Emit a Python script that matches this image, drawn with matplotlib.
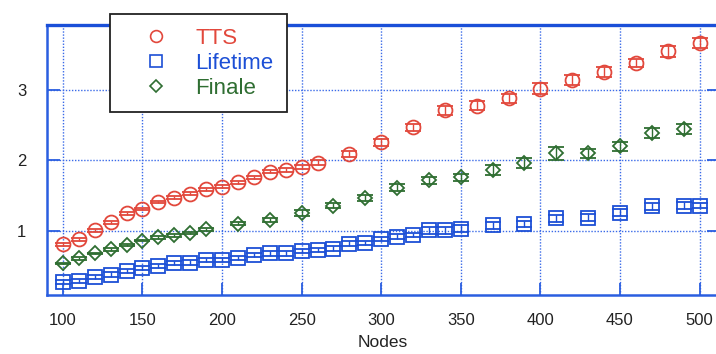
import matplotlib
matplotlib.use('Agg')
import matplotlib.pyplot as plt
from matplotlib.lines import Line2D

plt.rcParams['font.family'] = ['Liberation Sans', 'DejaVu Sans']

# ---- data ----
tts_x = [100, 110, 120, 130, 140, 150, 160, 170, 180, 190, 200, 210, 220, 230, 240, 250, 260,
         280, 300, 320, 340, 360, 380, 400, 420, 440, 460, 480, 500]
tts_y = [0.81, 0.88, 1.01, 1.12, 1.25, 1.31, 1.41, 1.47, 1.53, 1.59, 1.63, 1.69, 1.76, 1.84, 1.86, 1.91, 1.97,
         2.09, 2.26, 2.47, 2.71, 2.78, 2.88, 3.02, 3.14, 3.25, 3.38, 3.55, 3.67]
tts_err = [0.02, 0.02, 0.02, 0.02, 0.02, 0.02, 0.02, 0.02, 0.02, 0.02, 0.02, 0.02, 0.02, 0.02, 0.03, 0.03, 0.03,
           0.04, 0.05, 0.05, 0.06, 0.06, 0.06, 0.08, 0.07, 0.07, 0.06, 0.08, 0.07]

life_x = [100, 110, 120, 130, 140, 150, 160, 170, 180, 190, 200, 210, 220, 230, 240, 250, 260,
          270, 280, 290, 300, 310, 320, 330, 340, 350, 370, 390, 410, 430, 450, 470, 490, 500]
life_y = [0.27, 0.29, 0.35, 0.38, 0.43, 0.47, 0.50, 0.54, 0.55, 0.59, 0.59, 0.62, 0.66, 0.68, 0.68, 0.71, 0.73,
          0.75, 0.82, 0.83, 0.89, 0.92, 0.94, 1.01, 1.01, 1.03, 1.08, 1.10, 1.18, 1.19, 1.26, 1.35, 1.36, 1.36]
life_err = [0.03, 0.03, 0.03, 0.03, 0.03, 0.03, 0.03, 0.03, 0.03, 0.03, 0.03, 0.03, 0.03, 0.03, 0.03, 0.03, 0.03,
            0.03, 0.03, 0.03, 0.03, 0.03, 0.03, 0.05, 0.05, 0.05, 0.05, 0.04, 0.05, 0.05, 0.05, 0.05, 0.05, 0.04]

fin_x = [100, 110, 120, 130, 140, 150, 160, 170, 180, 190,
         210, 230, 250, 270, 290, 310, 330, 350, 370, 390, 410, 430, 450, 470, 490]
fin_y = [0.54, 0.61, 0.68, 0.74, 0.80, 0.86, 0.91, 0.94, 0.97, 1.02,
         1.10, 1.16, 1.25, 1.36, 1.47, 1.61, 1.72, 1.76, 1.86, 1.96, 2.10, 2.10, 2.20, 2.39, 2.45]
fin_err = [0.01, 0.02, 0.01, 0.02, 0.02, 0.01, 0.02, 0.02, 0.02, 0.02,
           0.02, 0.03, 0.04, 0.04, 0.04, 0.05, 0.05, 0.05, 0.07, 0.07, 0.09, 0.065, 0.065, 0.07, 0.07]

x_ticks = [100, 150, 200, 250, 300, 350, 400, 450, 500]
y_ticks = [1, 2, 3]
labels = ['TTS', 'Lifetime', 'Finale']

c_tts = '#e2483c'
c_life = '#1c4fd6'
c_fin = '#2f6e32'
c_axis = '#2a5ee0'

W, H = 716, 354
fig = plt.figure(figsize=(W / 100, H / 100), dpi=100)
ax = fig.add_axes([47 / W, 59 / H, (718.6 - 47) / W, (295 - 24.5) / H])

common = dict(linestyle='none', capsize=5.5, elinewidth=1.0, capthick=1.2, markerfacecolor='none',
              markeredgewidth=1.3, zorder=3)
ax.errorbar(tts_x, tts_y, yerr=tts_err, marker='o', markersize=10, color=c_tts, **common)
ax.errorbar(life_x, life_y, yerr=life_err, marker='s', markersize=9.5, color=c_life, **common)
ax.errorbar(fin_x, fin_y, yerr=fin_err, marker='D', markersize=7.5, color=c_fin, **common)

ax.set_xlim(90, 512)
ax.set_ylim(0.09, 3.93)
ax.set_xticks(x_ticks)
ax.set_yticks(y_ticks)
ax.grid(True, linestyle=(0, (1, 1.2)), color='#3a6ae8', linewidth=1.0, zorder=0)

for side in ['left', 'right', 'bottom']:
    ax.spines[side].set_color(c_axis)
    ax.spines[side].set_linewidth(1.8)
ax.spines['top'].set_color('#1a4fd8')
ax.spines['top'].set_linewidth(2.4)

ax.tick_params(axis='both', direction='in', length=9, width=1.3, color=c_axis,
               labelsize=12, labelcolor='#222222')
ax.tick_params(axis='y', right=True, pad=15)
ax.tick_params(axis='x', pad=13)
ax.set_xlabel('Nodes', fontsize=12.5, color='#222222', labelpad=5)

handles = [Line2D([], [], linestyle='none', marker='o', markersize=8.5, markerfacecolor='none',
                  markeredgecolor=c_tts, markeredgewidth=1.2),
           Line2D([], [], linestyle='none', marker='s', markersize=8, markerfacecolor='none',
                  markeredgecolor=c_life, markeredgewidth=1.2),
           Line2D([], [], linestyle='none', marker='D', markersize=6.5, markerfacecolor='none',
                  markeredgecolor=c_fin, markeredgewidth=1.2)]
leg = ax.legend(handles, labels, loc='upper left', bbox_to_anchor=(110 / W, 1 - 14.3 / H),
                bbox_transform=fig.transFigure, borderaxespad=0, fontsize=16, frameon=True,
                fancybox=False, framealpha=1, edgecolor='#222222', borderpad=0.6,
                handlelength=2.9, handletextpad=0.35, labelspacing=0.18)
leg.get_frame().set_linewidth(1.3)
for t, c in zip(leg.get_texts(), [c_tts, c_life, c_fin]):
    t.set_color(c)
leg.set_zorder(5)

fig.savefig('out.png', dpi=100)
